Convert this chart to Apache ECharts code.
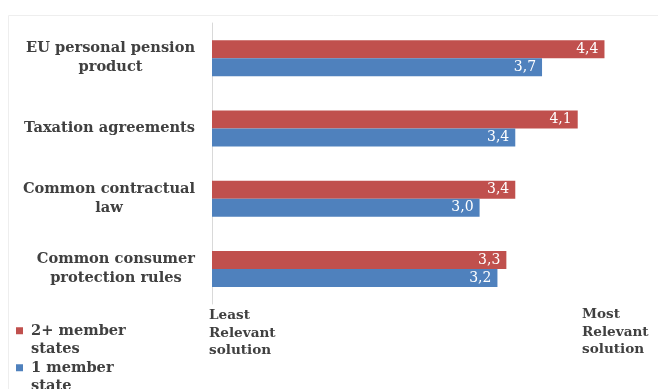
<!DOCTYPE html>
<html>
<head>
<meta charset="utf-8">
<script src="https://cdn.jsdelivr.net/npm/echarts@6/dist/echarts.min.js"></script>
<style>
  html, body { margin: 0; padding: 0; background: #fff; }
  #chart { width: 658px; height: 389px; }
</style>
</head>
<body>
<div id="chart"></div>
<script>
// Survey results: relevance of each solution, by number of member states
const categories = [
  'EU personal pension\nproduct',
  'Taxation agreements',
  'Common contractual\nlaw',
  'Common consumer\nprotection rules'
];
const multiStateValues = [4.4, 4.1, 3.4, 3.3];
const singleStateValues = [3.7, 3.4, 3.0, 3.2];
const seriesNames = ['2+ member states', '1 member state'];
const scaleEndLabels = ['Least\nRelevant\nsolution', 'Most\nRelevant\nsolution'];

const serif = 'DejaVu Serif';
const textGrey = '#404040';

// Centre each line of a multi-line label inside its own block
function centredLines(text) {
  return text.split('\n').map(function (l) { return '{c|' + l + '}'; }).join('\n');
}

const chart = echarts.init(document.getElementById('chart'));

chart.setOption({
  animation: false,
  backgroundColor: '#ffffff',
  grid: { left: 212, right: 0, top: 23, bottom: 85, containLabel: false },
  xAxis: {
    type: 'value',
    min: 0,
    max: 5,
    axisLine: { show: false },
    axisTick: { show: false },
    axisLabel: { show: false },
    splitLine: { show: false }
  },
  yAxis: {
    type: 'category',
    inverse: true,
    data: categories,
    axisLine: { show: true, lineStyle: { color: '#d9d9d9', width: 1 } },
    axisTick: { show: false },
    axisLabel: {
      margin: 17,
      align: 'right',
      formatter: centredLines,
      rich: {
        c: {
          align: 'center',
          fontFamily: serif,
          fontWeight: 'bold',
          fontSize: 14.6,
          lineHeight: 19,
          color: textGrey
        }
      }
    }
  },
  legend: {
    orient: 'vertical',
    left: 16,
    top: 303,
    height: 200,
    padding: 0,
    itemGap: -18.5,
    itemWidth: 7,
    itemHeight: 7,
    icon: 'rect',
    // blank first line keeps the marker level with the first line of the name
    formatter: function (name) {
      const parts = name.replace(/ (\S+)$/, '\n$1').split('\n');
      return '\n' + parts.map(function (p) { return '{t|' + p + '}'; }).join('\n');
    },
    textStyle: {
      fontFamily: serif,
      fontWeight: 'bold',
      fontSize: 14.6,
      lineHeight: 18.5,
      color: textGrey,
      rich: {
        t: {
          fontFamily: serif,
          fontWeight: 'bold',
          fontSize: 14.6,
          lineHeight: 18.5,
          color: textGrey,
          padding: [0, 0, 0, 3]
        }
      }
    },
    data: seriesNames
  },
  series: [
    {
      name: seriesNames[0],
      type: 'bar',
      data: multiStateValues,
      barWidth: 18,
      barGap: '0%',
      itemStyle: { color: '#C0504D' },
      label: {
        show: true,
        position: 'insideRight',
        distance: 6,
        color: '#ffffff',
        fontFamily: serif,
        fontSize: 14,
        formatter: function (p) { return p.value.toFixed(1).replace('.', ','); }
      }
    },
    {
      name: seriesNames[1],
      type: 'bar',
      data: singleStateValues,
      barWidth: 18,
      barGap: '0%',
      itemStyle: { color: '#4F81BD' },
      label: {
        show: true,
        position: 'insideRight',
        distance: 6,
        color: '#ffffff',
        fontFamily: serif,
        fontSize: 14,
        formatter: function (p) { return p.value.toFixed(1).replace('.', ','); }
      }
    }
  ],
  graphic: [
    {
      type: 'rect',
      silent: true,
      z: -1,
      shape: { x: 8.5, y: 15.5, width: 700, height: 400 },
      style: { fill: 'none', stroke: '#eeeeee', lineWidth: 1 }
    },
    {
      type: 'text',
      left: 209,
      top: 307,
      style: {
        text: scaleEndLabels[0],
        font: 'bold 13.6px "DejaVu Serif"',
        lineHeight: 17.5,
        fill: textGrey
      }
    },
    {
      type: 'text',
      left: 582,
      top: 306,
      style: {
        text: scaleEndLabels[1],
        font: 'bold 13.6px "DejaVu Serif"',
        lineHeight: 17.5,
        fill: textGrey
      }
    }
  ]
});
</script>
</body>
</html>
